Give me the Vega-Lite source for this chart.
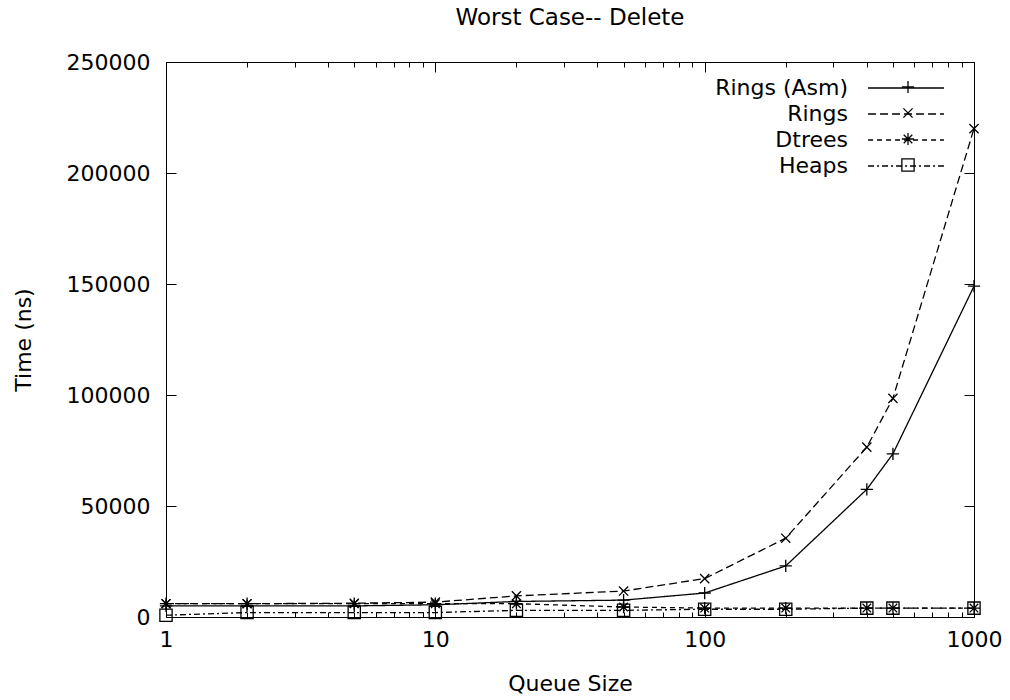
{
  "$schema": "https://vega.github.io/schema/vega-lite/v6.json",
  "autosize": {"type": "none"},
  "padding": {"left": 166, "top": 62, "right": 36, "bottom": 83},
  "width": 808,
  "height": 555,
  "background": "white",
  "title": {"text": "Worst Case-- Delete", "font": "DejaVu Sans", "fontSize": 23, "fontWeight": "normal", "color": "black", "anchor": "middle", "offset": 21},
  "config": {
    "view": {"stroke": null},
    "axis": {"labelFont": "DejaVu Sans", "titleFont": "DejaVu Sans", "labelFontSize": 22, "titleFontSize": 22, "titleFontWeight": "normal", "labelColor": "black", "titleColor": "black", "domainColor": "black", "tickColor": "black", "grid": false},
    "legend": {"labelFont": "DejaVu Sans", "labelFontSize": 22, "labelColor": "black"}
  },
  "data": {"values": [
    {"size": 1, "time": 5000, "series": "Rings (Asm)"},
    {"size": 2, "time": 5000, "series": "Rings (Asm)"},
    {"size": 5, "time": 5000, "series": "Rings (Asm)"},
    {"size": 10, "time": 5500, "series": "Rings (Asm)"},
    {"size": 20, "time": 7000, "series": "Rings (Asm)"},
    {"size": 50, "time": 7600, "series": "Rings (Asm)"},
    {"size": 100, "time": 10800, "series": "Rings (Asm)"},
    {"size": 200, "time": 23000, "series": "Rings (Asm)"},
    {"size": 400, "time": 57500, "series": "Rings (Asm)"},
    {"size": 500, "time": 73500, "series": "Rings (Asm)"},
    {"size": 1000, "time": 149000, "series": "Rings (Asm)"},
    {"size": 1, "time": 6000, "series": "Rings"},
    {"size": 2, "time": 6000, "series": "Rings"},
    {"size": 5, "time": 6200, "series": "Rings"},
    {"size": 10, "time": 6700, "series": "Rings"},
    {"size": 20, "time": 9500, "series": "Rings"},
    {"size": 50, "time": 11700, "series": "Rings"},
    {"size": 100, "time": 17300, "series": "Rings"},
    {"size": 200, "time": 35500, "series": "Rings"},
    {"size": 400, "time": 76500, "series": "Rings"},
    {"size": 500, "time": 98500, "series": "Rings"},
    {"size": 1000, "time": 220000, "series": "Rings"},
    {"size": 1, "time": 6000, "series": "Dtrees"},
    {"size": 2, "time": 6000, "series": "Dtrees"},
    {"size": 5, "time": 6000, "series": "Dtrees"},
    {"size": 10, "time": 6000, "series": "Dtrees"},
    {"size": 20, "time": 6000, "series": "Dtrees"},
    {"size": 50, "time": 4500, "series": "Dtrees"},
    {"size": 100, "time": 4000, "series": "Dtrees"},
    {"size": 200, "time": 4000, "series": "Dtrees"},
    {"size": 400, "time": 4000, "series": "Dtrees"},
    {"size": 500, "time": 4000, "series": "Dtrees"},
    {"size": 1000, "time": 4000, "series": "Dtrees"},
    {"size": 1, "time": 800, "series": "Heaps"},
    {"size": 2, "time": 2000, "series": "Heaps"},
    {"size": 5, "time": 2000, "series": "Heaps"},
    {"size": 10, "time": 2000, "series": "Heaps"},
    {"size": 20, "time": 3000, "series": "Heaps"},
    {"size": 50, "time": 3000, "series": "Heaps"},
    {"size": 100, "time": 3500, "series": "Heaps"},
    {"size": 200, "time": 3500, "series": "Heaps"},
    {"size": 400, "time": 4000, "series": "Heaps"},
    {"size": 500, "time": 4000, "series": "Heaps"},
    {"size": 1000, "time": 4000, "series": "Heaps"}
  ]},
  "layer": [
    {
      "mark": {"type": "line", "color": "black", "strokeWidth": 1.3},
      "encoding": {
        "x": {"field": "size", "type": "quantitative", "title": "Queue Size",
          "scale": {"type": "log", "domain": [1, 1000], "nice": false},
          "axis": {"values": [1,2,3,4,5,6,7,8,9,10,20,30,40,50,60,70,80,90,100,200,300,400,500,600,700,800,900,1000],
            "labelExpr": "indexof([1,10,100,1000], datum.value) >= 0 ? datum.value : ''",
            "tickSize": {"expr": "indexof([1,10,100,1000], datum.value) >= 0 ? -10 : -5"},
            "labelPadding": 22, "titlePadding": 18, "labelFlush": false, "labelOverlap": false}},
        "y": {"field": "time", "type": "quantitative", "title": "Time (ns)",
          "scale": {"domain": [0, 250000], "nice": false},
          "axis": {"values": [0, 50000, 100000, 150000, 200000, 250000], "format": "d", "tickSize": -10, "labelPadding": 26, "titlePadding": 31, "labelFlush": false}},
        "strokeDash": {"field": "series", "type": "nominal",
          "scale": {"domain": ["Rings (Asm)", "Rings", "Dtrees", "Heaps"], "range": [[1, 0], [8, 4], [5, 4], [6, 3, 2, 3]]},
          "legend": {"title": null, "orient": "none", "legendX": 728, "legendY": 14, "symbolType": "M-3.45,0L3.45,0", "symbolSize": 484, "symbolStrokeWidth": 1.3, "symbolStrokeColor": "black", "symbolFillColor": "transparent", "labelAlign": "right", "labelOffset": -70, "rowPadding": 3}}
      }
    },
    {
      "mark": {"type": "point", "filled": false, "color": "black", "strokeWidth": 1.3, "opacity": 1, "size": 150},
      "encoding": {
        "x": {"field": "size", "type": "quantitative",
          "axis": {"orient": "top", "title": null, "labels": false, "domain": true,
            "values": [1,2,3,4,5,6,7,8,9,10,20,30,40,50,60,70,80,90,100,200,300,400,500,600,700,800,900,1000],
            "tickSize": {"expr": "indexof([1,10,100,1000], datum.value) >= 0 ? -10 : -5"}}},
        "y": {"field": "time", "type": "quantitative",
          "axis": {"orient": "right", "title": null, "labels": false, "values": [0, 50000, 100000, 150000, 200000, 250000], "tickSize": -10}},
        "shape": {"field": "series", "type": "nominal",
          "scale": {"domain": ["Heaps", "Dtrees", "Rings", "Rings (Asm)"],
            "range": ["square", "M-1,0L1,0M0,-1L0,1M-0.7,-0.7L0.7,0.7M-0.7,0.7L0.7,-0.7", "M-0.75,-0.75L0.75,0.75M-0.75,0.75L0.75,-0.75", "M-1,0L1,0M0,-1L0,1"]},
          "legend": {"title": null, "orient": "none", "legendX": 731, "legendY": 14, "values": ["Rings (Asm)", "Rings", "Dtrees", "Heaps"], "symbolSize": 150, "symbolStrokeWidth": 1.3, "symbolStrokeColor": "black", "symbolFillColor": "white", "labelExpr": "''", "clipHeight": 22, "rowPadding": 4}}
      }
    }
  ],
  "resolve": {"axis": {"x": "independent", "y": "independent"}}
}
